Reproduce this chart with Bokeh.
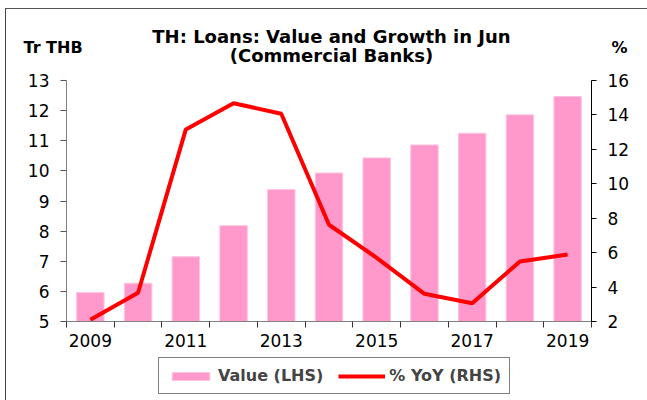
from bokeh.plotting import figure
from bokeh.layouts import column
from bokeh.models import (Range1d, LinearAxis, FixedTicker, Label, Legend, LegendItem,
                          ColumnDataSource)
from bokeh.embed import file_html
from bokeh.resources import INLINE

years = [2009, 2010, 2011, 2012, 2013, 2014, 2015, 2016, 2017, 2018, 2019]
value_tr_thb = [5.96, 6.27, 7.15, 8.18, 9.38, 9.93, 10.43, 10.86, 11.25, 11.86, 12.47]
yoy_pct = [2.1, 3.67, 13.16, 14.68, 14.07, 7.62, 5.7, 3.61, 3.06, 5.49, 5.89]
x_label_years = [2009, 2011, 2013, 2015, 2017, 2019]
left_ticks = [5, 6, 7, 8, 9, 10, 11, 12, 13]
right_ticks = [2, 4, 6, 8, 10, 12, 14, 16]

title_lines = ["TH: Loans: Value and Growth in Jun", "(Commercial Banks)"]
left_unit = "Tr THB"
right_unit = "%"
legend_labels = ["Value (LHS)", "% YoY (RHS)"]

FONT = "DejaVu Sans"
BAR_FILL, BAR_LINE, LINE_COLOR = "#FF99CC", "#FFC4E0", "#FF0000"
W = 641
HH = 61          # header height
H = 287          # main figure height
FH = 43          # footer (legend) height
ML, MR, MT, MB = 60, 56, 10, 36


def blank(height, yflip=True):
    f = figure(width=W, height=height, output_backend="svg", toolbar_location=None,
               x_range=Range1d(0, W),
               y_range=Range1d(height, 0) if yflip else Range1d(0, height),
               x_axis_type=None, y_axis_type=None, min_border=0,
               min_border_left=0, min_border_right=0, min_border_top=0, min_border_bottom=0)
    f.frame_align = False
    f.grid.visible = False
    f.outline_line_color = None
    f.background_fill_color = "white"
    f.border_fill_color = "white"
    return f


# ---------------- header (titles and unit labels) ----------------
hdr = blank(HH)
for txt, x, y, size, align in [(title_lines[0], 325, 27, "18px", "center"),
                               (title_lines[1], 325, 46, "18px", "center"),
                               (left_unit, 17, 38, "16px", "left"),
                               (right_unit, 613, 38, "16px", "center")]:
    hdr.add_layout(Label(x=x, y=y, text=txt, text_font=FONT, text_font_size=size,
                         text_font_style="bold", text_align=align,
                         text_baseline="middle", text_color="black"))

# ---------------- main chart ----------------
src = ColumnDataSource(dict(year=years, value=value_tr_thb, yoy=yoy_pct))

x0, x1 = years[0] - 0.5, years[-1] + 0.5
y0, y1 = left_ticks[0], left_ticks[-1]

p = figure(width=W, height=H, output_backend="svg", toolbar_location=None,
           x_range=Range1d(x0, x1), y_range=Range1d(y0, y1),
           min_border_left=ML, min_border_right=MR, min_border_top=MT, min_border_bottom=MB)
p.frame_align = False
p.outline_line_color = None
p.xgrid.visible = False
p.ygrid.visible = False
p.background_fill_color = "white"
p.border_fill_color = "white"

p.extra_y_ranges = {"pct": Range1d(right_ticks[0], right_ticks[-1])}

bars = p.vbar(x="year", top="value", bottom=y0, width=0.575, source=src,
              fill_color=BAR_FILL, line_color=BAR_LINE, line_width=1)
line = p.line(x="year", y="yoy", source=src, y_range_name="pct",
              line_color=LINE_COLOR, line_width=4)

# x axis
xa = p.xaxis[0]
xa.ticker = FixedTicker(ticks=x_label_years,
                        minor_ticks=[y - 0.5 for y in years] + [years[-1] + 0.5])
xa.major_tick_out = 0
xa.major_tick_in = 0
xa.minor_tick_out = 6
xa.minor_tick_in = 0
xa.minor_tick_line_color = "#333333"
xa.axis_line_color = "#808080"
xa.major_label_standoff = 6
xa.major_label_text_font = FONT
xa.major_label_text_font_size = "17px"
xa.major_label_text_color = "black"

# left axis
ya = p.yaxis[0]
ya.ticker = FixedTicker(ticks=left_ticks)
ya.major_tick_out = 6
ya.major_tick_in = 0
ya.minor_tick_out = 0
ya.minor_tick_in = 0
ya.axis_line_color = "#808080"
ya.major_tick_line_color = "#555555"
ya.major_label_standoff = 11
ya.major_label_text_font = FONT
ya.major_label_text_font_size = "17px"
ya.major_label_text_color = "black"

# right axis
ra = LinearAxis(y_range_name="pct", ticker=FixedTicker(ticks=right_ticks))
ra.major_tick_out = 5
ra.major_tick_in = 0
ra.minor_tick_out = 0
ra.minor_tick_in = 0
ra.axis_line_color = "black"
ra.major_tick_line_color = "black"
ra.major_label_standoff = 11
ra.major_label_text_font = FONT
ra.major_label_text_font_size = "17px"
ra.major_label_text_color = "black"
p.add_layout(ra, "right")

# ---------------- footer (legend) ----------------
# the footer's ranges are in pixels, so these legend-source renderers fall outside its view
ftr = blank(FH, yflip=False)
lg_bar = ftr.vbar(x="year", top="value", width=0.575, source=src,
                  fill_color=BAR_FILL, line_color=BAR_LINE)
lg_line = ftr.line(x="year", y="yoy", source=src, line_color=LINE_COLOR, line_width=4)
legend = Legend(items=[LegendItem(label=legend_labels[0], renderers=[lg_bar]),
                       LegendItem(label=legend_labels[1], renderers=[lg_line])],
                location=(152, 6), orientation="horizontal")
legend.label_text_font = FONT
legend.label_text_font_size = "16px"
legend.label_text_font_style = "bold"
legend.glyph_width = 47
legend.glyph_height = 10
legend.label_height = 15
legend.label_standoff = 4
legend.spacing = 15
legend.padding = 8
legend.margin = 0
legend.border_line_color = "black"
legend.border_line_width = 1
legend.background_fill_alpha = 1
ftr.add_layout(legend, "center")

layout = column(hdr, p, ftr, spacing=0)
layout.styles = {"border-left": "1px solid #444444", "border-top": "1px solid #555555",
                 "margin-left": "5px", "margin-top": "8px"}

open("out.html", "w").write(file_html(layout, INLINE))
